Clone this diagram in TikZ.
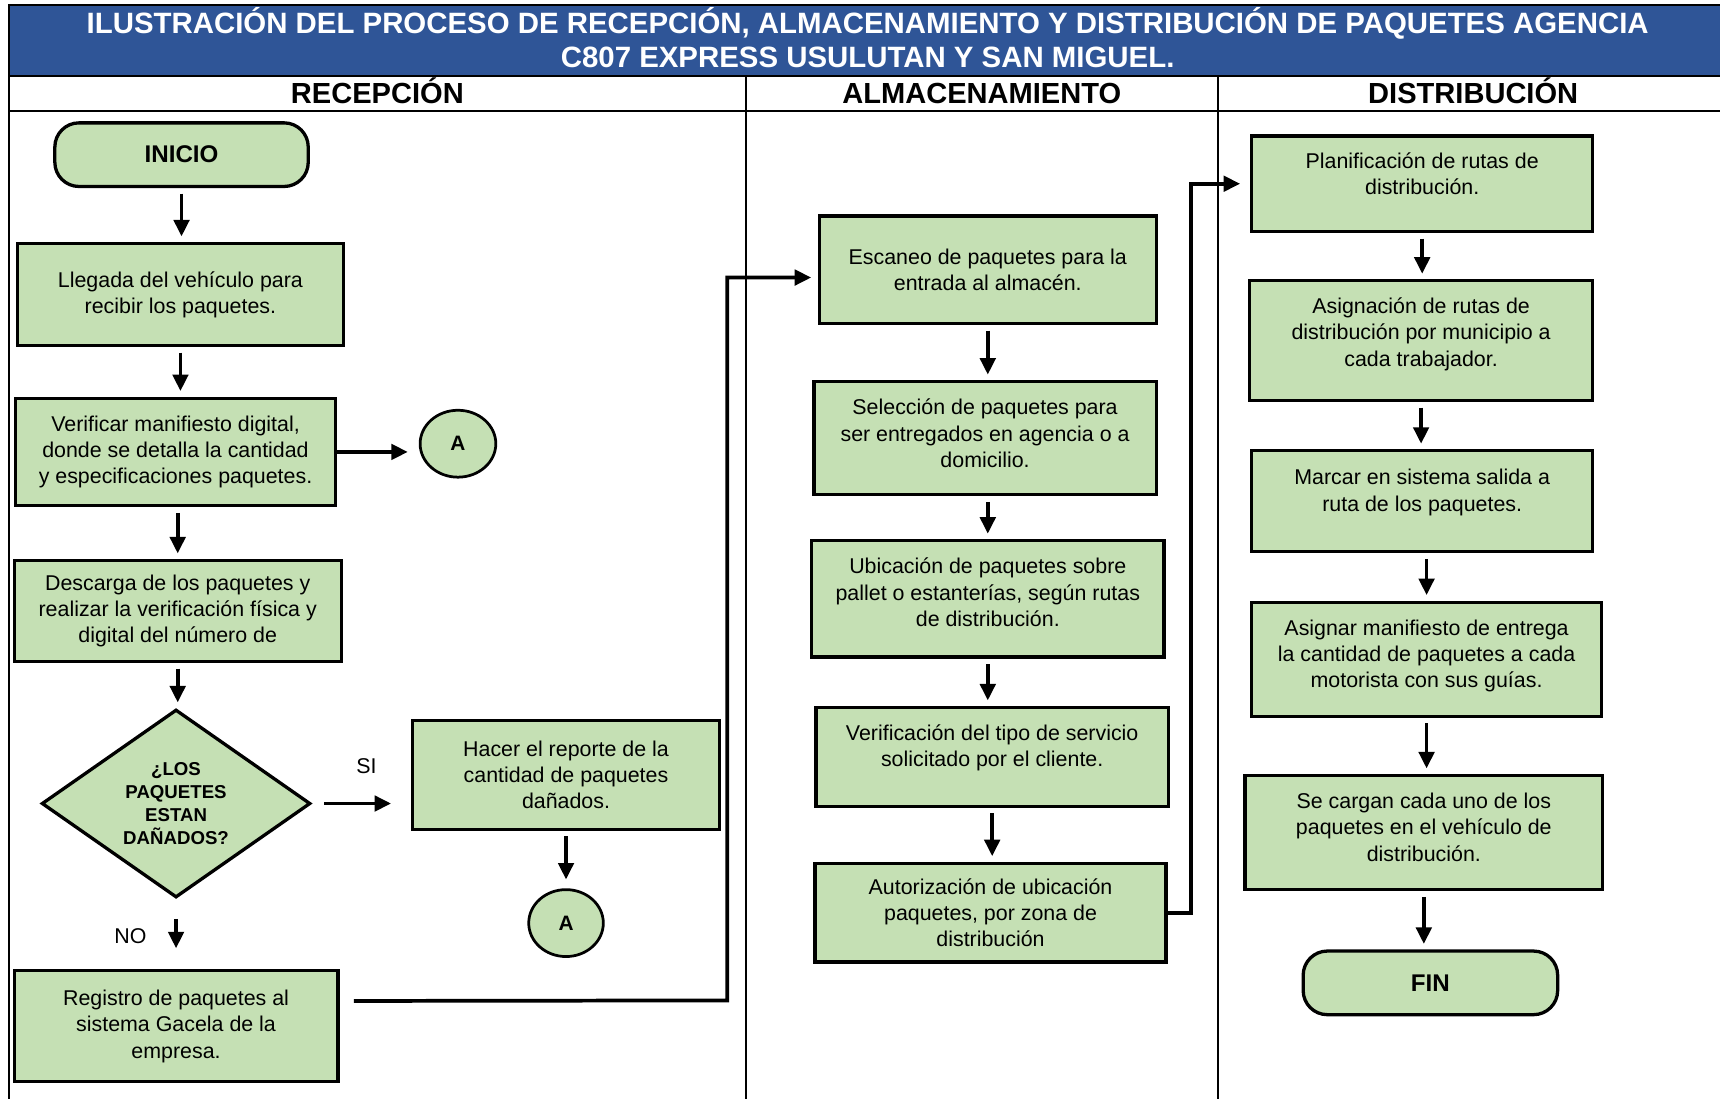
\documentclass[tikz,border=0pt]{standalone}
\usepackage{fontspec}
\setmainfont{Liberation Sans}
\usetikzlibrary{shapes.geometric,arrows.meta}
\definecolor{titleblue}{HTML}{2F5597}
\definecolor{boxgreen}{HTML}{C5E0B4}
\begin{document}
\begin{tikzpicture}[x=1pt,y=-1pt,
    box/.style={draw,fill=boxgreen,line width=3pt,align=center,inner sep=0pt,
      font=\fontsize{19.5}{24}\selectfont},
    term/.style={box,rounded corners=22pt,font=\bfseries\fontsize{22}{24}\selectfont},
    ask/.style={box,diamond,font=\bfseries\fontsize{17}{21}\selectfont},
    con/.style={box,ellipse,line width=2.5pt,font=\bfseries\fontsize{19}{21}\selectfont},
    lane/.style={anchor=base,font=\bfseries\fontsize{26.5}{28}\selectfont},
    txt/.style={font=\fontsize{19.5}{24}\selectfont}]
  \useasboundingbox (0,0) rectangle (1568,1001);
  \draw[fill=titleblue,line width=1.8pt] (8,5) rectangle (1580,69);
  \draw[line width=1.8pt] (8,5) -- (8,1010) (680,69) -- (680,1010) (1110,69) -- (1110,1010)
    (8,101) -- (1580,101);
  \draw
    (791,34) node[text=white,align=center,font=\bfseries\fontsize{26.8}{31}\selectfont] (title)
      {ILUSTRACIÓN DEL PROCESO DE RECEPCIÓN, ALMACENAMIENTO Y DISTRIBUCIÓN DE PAQUETES AGENCIA\\
       C807 EXPRESS USULUTAN Y SAN MIGUEL.}
    (344,94) node[lane] (recep) {RECEPCIÓN}
    (895,94) node[lane] (almac) {ALMACENAMIENTO}
    (1343,94) node[lane] (distr) {DISTRIBUCIÓN}
    (165.5,141) node[term,minimum width=231,minimum height=58] (st) {INICIO}
    (164.5,268.5) node[box,minimum width=297,minimum height=93] (r1)
      {Llegada del vehículo para\\recibir los paquetes.}
    (160,412) node[box,minimum width=292,minimum height=98] (r2)
      {Verificar manifiesto digital,\\donde se detalla la cantidad\\y especificaciones paquetes.}
    (417.5,404.5) node[con,minimum width=69,minimum height=61] (c1) {A}
    (162,557) node[box,minimum width=298,minimum height=92] (r3)
      {Descarga de los paquetes y\\realizar la verificación física y\\digital del número de}
    (160.5,732.5) node[ask,minimum width=245,minimum height=151] (q)
      {¿LOS\\PAQUETES\\ESTAN\\DAÑADOS?}
    (516,706.5) node[box,minimum width=280,minimum height=99] (r4)
      {Hacer el reporte de la\\cantidad de paquetes\\dañados.}
    (516,841.5) node[con,minimum width=68,minimum height=61] (c2) {A}
    (160.5,935.5) node[box,minimum width=295,minimum height=101] (r5)
      {Registro de paquetes al\\sistema Gacela de la\\empresa.}
    (334,698) node[txt] (si) {SI}
    (119,853) node[txt] (no) {NO}
    (900.5,246) node[box,minimum width=307,minimum height=98] (a1)
      {Escaneo de paquetes para la\\entrada al almacén.}
    (898,399.5) node[box,minimum width=312,minimum height=103] (a2)
      {Selección de paquetes para\\ser entregados en agencia o a\\domicilio.\\[-15pt]}
    (900.5,546) node[box,minimum width=321,minimum height=106] (a3)
      {Ubicación de paquetes sobre\\pallet o estanterías, según rutas\\de distribución.\\[-12pt]}
    (904.5,690) node[box,minimum width=321,minimum height=90] (a4)
      {Verificación del tipo de servicio\\solicitado por el cliente.\\[-4pt]}
    (903,832) node[box,minimum width=320,minimum height=90] (a5)
      {Autorización de ubicación\\paquetes, por zona de\\distribución}
    (1296.5,167.5) node[box,minimum width=311,minimum height=87] (d1)
      {Planificación de rutas de\\distribución.\\[-6pt]}
    (1295.5,310.5) node[box,minimum width=313,minimum height=109] (d2)
      {Asignación de rutas de\\distribución por municipio a\\cada trabajador.\\[-8pt]}
    (1296.5,457) node[box,minimum width=311,minimum height=92] (d3)
      {Marcar en sistema salida a\\ruta de los paquetes.\\[-4pt]}
    (1300.5,601) node[box,minimum width=319,minimum height=104] (d4)
      {Asignar manifiesto de entrega\\la cantidad de paquetes a cada\\motorista con sus guías.\\[-14pt]}
    (1298,759) node[box,minimum width=326,minimum height=104] (d5)
      {Se cargan cada uno de los\\paquetes en el vehículo de\\distribución.\\[-14pt]}
    (1304,896) node[term,minimum width=232,minimum height=58] (fin) {FIN};
  \begin{scope}[line width=3.4pt,-{Triangle[length=15pt,width=14pt]},shorten <=5pt,shorten >=5pt]
    \draw (st.south) -- (st.south |- r1.north);
    \draw (r1.south) -- (r1.south |- r2.north);
    \draw[shorten <=0pt,shorten >=10pt] (r2.east) -- (r2.east -| c1.west);
    \draw (r3.north |- r2.south) -- (r3.north);
    \draw (r3.south) -- (r3.south |- q.north);
    \draw[shorten <=11pt,shorten >=18pt] (q.east) -- (q.east -| r4.west);
    \draw[shorten <=18pt,shorten >=19pt] (q.south) -- (q.south |- r5.north);
    \draw[shorten >=8pt] (r4.south) -- (c2.north);
    \draw[shorten <=0pt,shorten >=6pt] ([shift={(13,-23)}]r5.east) -- (663,912)
      |- ([yshift=-7pt]a1.west);
    \draw (a1.south) -- (a1.south |- a2.north);
    \draw (a3.north |- a2.south) -- (a3.north);
    \draw (a3.south) -- (a3.south |- a4.north);
    \draw (a4.south) -- (a4.south |- a5.north);
    \draw[shorten <=0pt,shorten >=9pt] (a5.east) -- ++(21,0) |- (d1.west);
    \draw (d1.south) -- (d1.south |- d2.north);
    \draw (d2.south) -- (d2.south |- d3.north);
    \draw (d4.north |- d3.south) -- (d4.north);
    \draw (d4.south) -- (d4.south |- d5.north);
    \draw (d5.south) -- (d5.south |- fin.north);
  \end{scope}
\end{tikzpicture}
\end{document}
